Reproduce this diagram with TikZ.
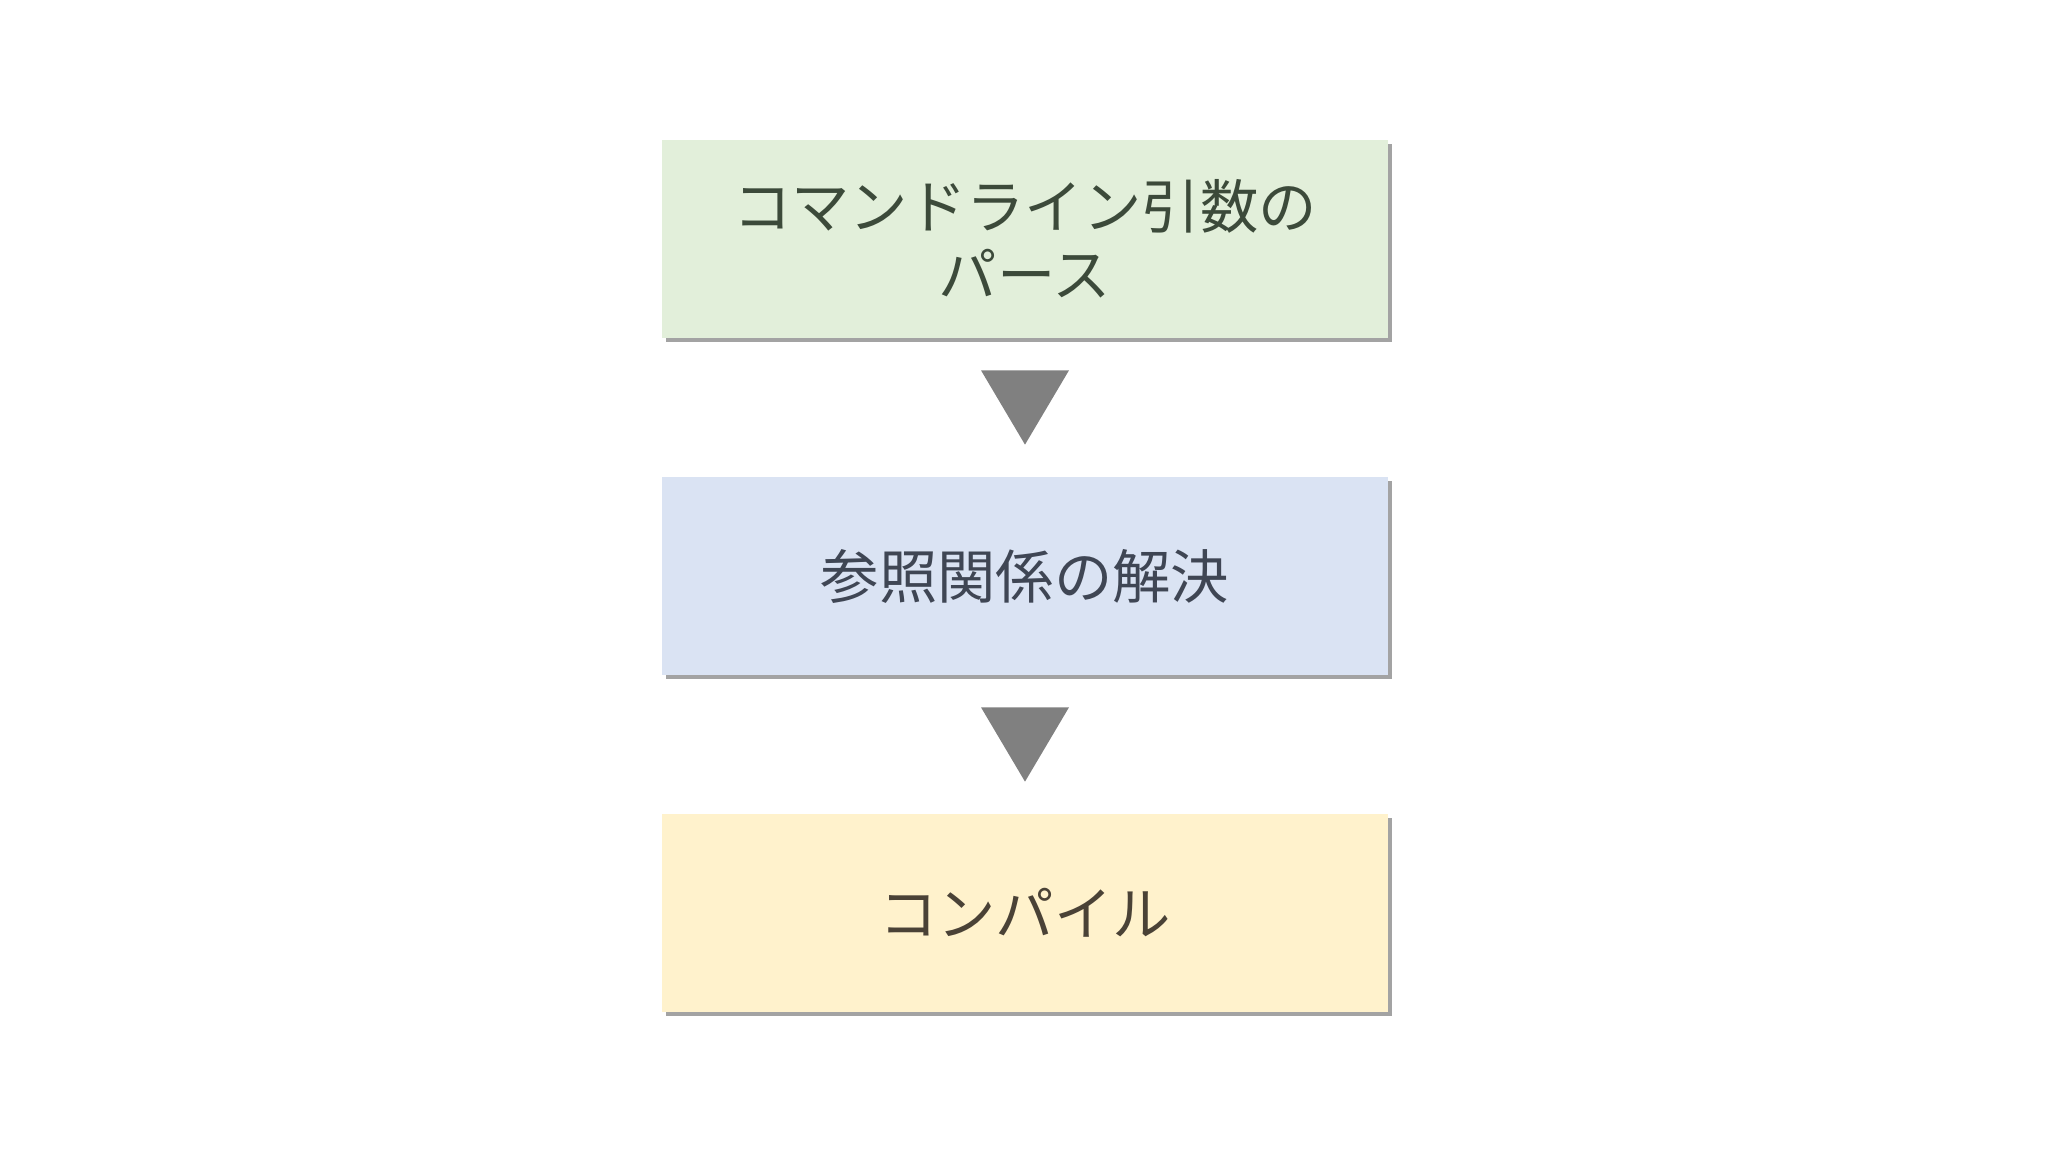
\documentclass[tikz,border=0pt]{standalone}
\usepackage{fontspec}
\newfontfamily\jpfont{Noto Sans CJK JP}
\usetikzlibrary{matrix,calc,shadows}
\definecolor{boxgreen}{HTML}{E2EFDA}
\definecolor{boxblue}{HTML}{DAE3F3}
\definecolor{boxyellow}{HTML}{FFF2CC}
\definecolor{txtgreen}{HTML}{3C4A3A}
\definecolor{txtblue}{HTML}{3F4654}
\definecolor{txtyellow}{HTML}{4A4236}
\tikzset{
  stage/.style={minimum width=7.26cm, minimum height=1.98cm, text width=7cm, align=center,
    font=\jpfont\fontsize{16.6pt}{19.3pt}\selectfont,
    drop shadow={shadow xshift=0.04cm, shadow yshift=-0.04cm, fill=black!45, opacity=0.8}},
  down/.style={fill=black!50}
}
\begin{document}
\begin{tikzpicture}
\useasboundingbox (0,0) rectangle (20.48,11.52);
\matrix (m) at (10.25,5.76) [matrix of nodes, row sep={3.37cm,between origins}, nodes={stage, anchor=center}]
{
  |[fill=boxgreen, text=txtgreen]| {コマンドライン引数の\\パース} \\
  |[fill=boxblue, text=txtblue]| 参照関係の解決 \\
  |[fill=boxyellow, text=txtyellow]| コンパイル \\};
\foreach \a/\b in {1/2,2/3}
  \fill[down] ($(m-\a-1.south)!0.23!(m-\b-1.north)$) ++(-0.44,0) -- ++(0.88,0) -- ($(m-\a-1.south)!0.77!(m-\b-1.north)$) -- cycle;
\end{tikzpicture}
\end{document}
